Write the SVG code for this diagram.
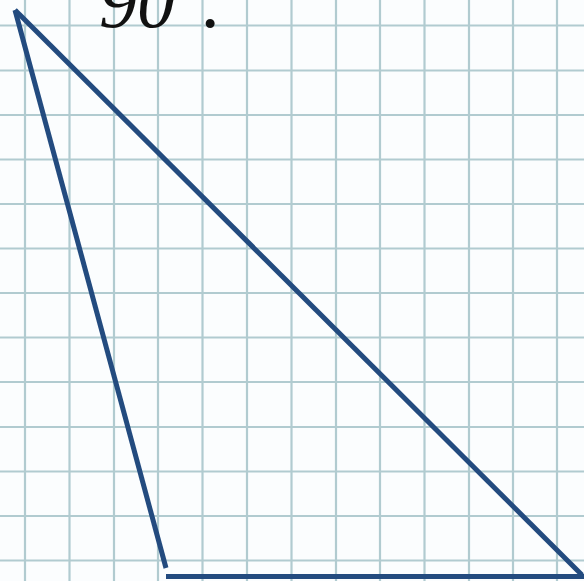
<svg xmlns="http://www.w3.org/2000/svg" width="584" height="581" viewBox="0 0 584 581">
<style>
.grid line{stroke:#b1cbd0;stroke-width:2.2}
.tri{stroke:#234b7f;stroke-width:5;fill:none;stroke-linecap:butt}
.lbl{font-family:"Liberation Serif","DejaVu Serif",serif;font-style:italic;font-size:76px;fill:#111}
</style>
<rect x="0" y="0" width="584" height="581" fill="#fbfdfe"/>
<g id="grid" class="grid">
<line x1="25" y1="0" x2="25" y2="581"/>
<line x1="69.5" y1="0" x2="69.5" y2="581"/>
<line x1="114" y1="0" x2="114" y2="581"/>
<line x1="158" y1="0" x2="158" y2="581"/>
<line x1="202.5" y1="0" x2="202.5" y2="581"/>
<line x1="247" y1="0" x2="247" y2="581"/>
<line x1="291.5" y1="0" x2="291.5" y2="581"/>
<line x1="336" y1="0" x2="336" y2="581"/>
<line x1="380" y1="0" x2="380" y2="581"/>
<line x1="424.5" y1="0" x2="424.5" y2="581"/>
<line x1="469" y1="0" x2="469" y2="581"/>
<line x1="513" y1="0" x2="513" y2="581"/>
<line x1="557" y1="0" x2="557" y2="581"/>
<line x1="0" y1="25.5" x2="584" y2="25.5"/>
<line x1="0" y1="70.5" x2="584" y2="70.5"/>
<line x1="0" y1="115" x2="584" y2="115"/>
<line x1="0" y1="159.5" x2="584" y2="159.5"/>
<line x1="0" y1="204" x2="584" y2="204"/>
<line x1="0" y1="248.5" x2="584" y2="248.5"/>
<line x1="0" y1="293" x2="584" y2="293"/>
<line x1="0" y1="337.5" x2="584" y2="337.5"/>
<line x1="0" y1="382" x2="584" y2="382"/>
<line x1="0" y1="427" x2="584" y2="427"/>
<line x1="0" y1="471.5" x2="584" y2="471.5"/>
<line x1="0" y1="516" x2="584" y2="516"/>
<line x1="0" y1="560.5" x2="584" y2="560.5"/>
</g>
<g id="label"><text class="lbl" x="99" y="27">90<tspan dy="-20">°</tspan><tspan dy="20" dx="-3">.</tspan></text></g>
<g id="triangle">
<line class="tri" x1="15" y1="10" x2="166" y2="568"/>
<line class="tri" x1="15" y1="10" x2="582" y2="575"/>
<line class="tri" x1="166" y1="576.5" x2="584" y2="576.5"/>
</g>
</svg>
